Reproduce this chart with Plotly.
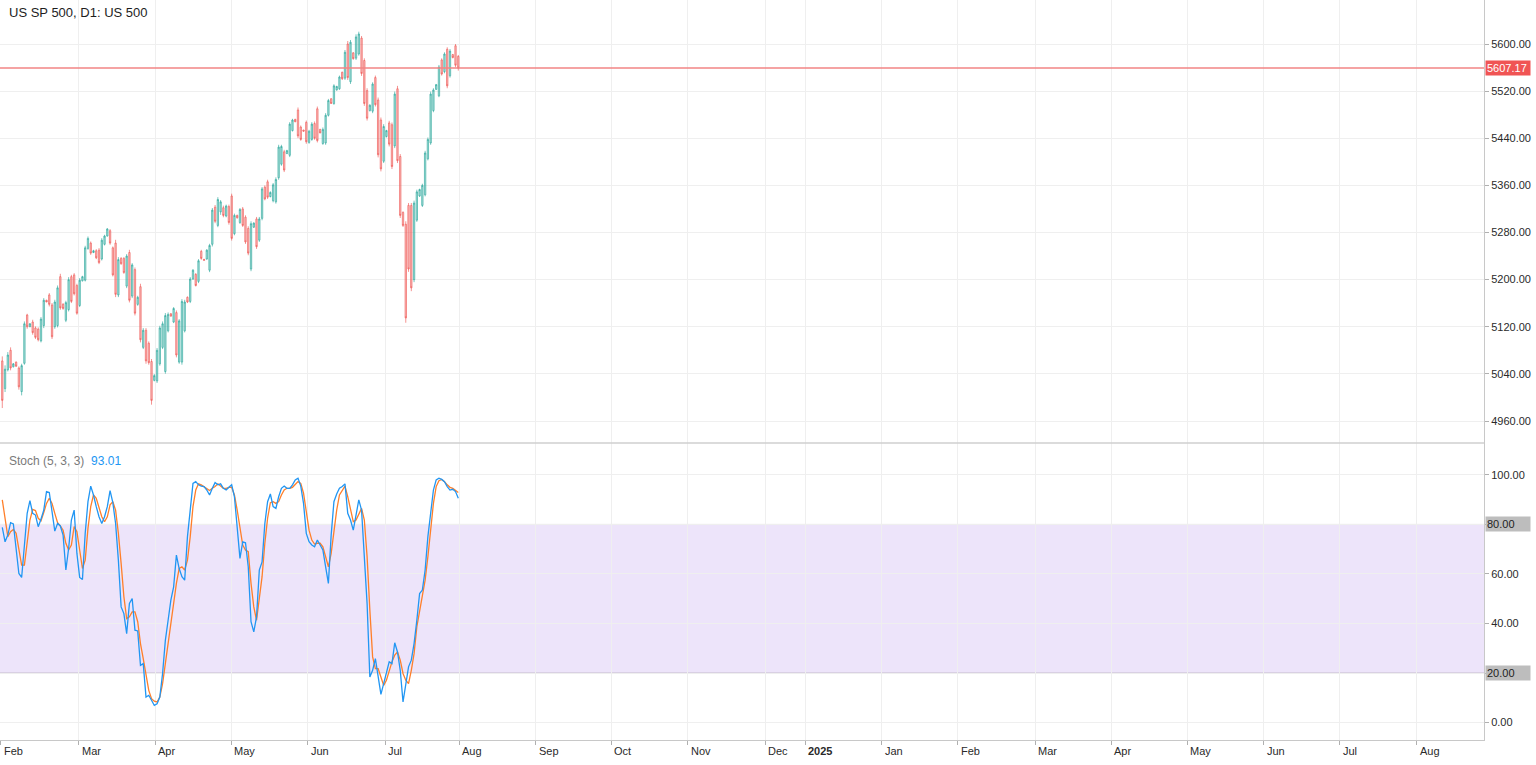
import plotly.graph_objects as go

# ---------------- data ----------------
bar_open = [5062, 5015, 5047, 5080, 5052, 5060, 5050, 5010, 5058, 5140,
            5120, 5128, 5118, 5116, 5096, 5122, 5165, 5174, 5157, 5120,
            5122, 5205, 5158, 5131, 5149, 5205, 5208, 5190, 5156, 5198,
            5199, 5253, 5262, 5246, 5249, 5250, 5235, 5260, 5274, 5283,
            5254, 5262, 5174, 5236, 5236, 5189, 5246, 5172, 5217, 5158,
            5188, 5085, 5114, 5092, 5061, 5029, 5028, 5057, 5085, 5044,
            5113, 5142, 5128, 5144, 5060, 5060, 5113, 5170, 5163, 5201,
            5209, 5197, 5248, 5234.5, 5235, 5216, 5260, 5323, 5292, 5315,
            5322, 5308, 5324, 5342, 5278, 5309, 5297, 5320, 5306, 5287,
            5218, 5289, 5303, 5267, 5304, 5357, 5366, 5341, 5334, 5332,
            5373, 5396, 5417, 5414, 5411, 5453, 5472, 5488, 5459, 5454,
            5467, 5433, 5438, 5465, 5490, 5455, 5431, 5432, 5479, 5507,
            5499, 5522, 5524, 5552, 5542, 5600, 5536, 5585, 5576, 5583,
            5610, 5572, 5521, 5487, 5486, 5543, 5505, 5471, 5401, 5443,
            5466, 5463, 5427, 5524, 5409, 5314, 5294, 5326, 5326, 5200,
            5301, 5342, 5326, 5344, 5405, 5432, 5487, 5523, 5512, 5573,
            5553, 5591, 5546, 5582, 5597, 5579]
bar_high = [5069.7, 5054.4, 5077.0, 5085.0, 5058.4, 5061.0, 5052.7, 5057.2, 5129.0, 5142.0,
            5126.2, 5131.9, 5120.6, 5118.9, 5136.4, 5168.6, 5165.8, 5177.1, 5160.2, 5165.8,
            5190.1, 5209.9, 5160.2, 5164.1, 5204.2, 5208.2, 5211.0, 5193.0, 5202.6, 5206.5,
            5257.4, 5273.2, 5264.7, 5250.6, 5251.7, 5253.4, 5270.4, 5276.1, 5287.4, 5285.7,
            5256.3, 5267.6, 5238.2, 5238.2, 5238.2, 5243.3, 5250.6, 5228.0, 5220.6, 5172.6,
            5193.0, 5117.7, 5117.7, 5095.1, 5065.2, 5039.7, 5083.8, 5121.7, 5129.0, 5143.2,
            5144.3, 5143.2, 5153.4, 5147.7, 5133.0, 5166.9, 5165.8, 5171.5, 5204.2, 5217.8,
            5211.0, 5234.8, 5250.6, 5234.8, 5251.7, 5260.8, 5321.6, 5326.7, 5340.0, 5335.0,
            5325.6, 5327.3, 5327.3, 5345.9, 5312.0, 5310.3, 5321.6, 5323.3, 5309.2, 5290.6,
            5299.0, 5297.3, 5306.4, 5306.4, 5357.2, 5360.0, 5369.6, 5349.9, 5364.0, 5373.6,
            5428.9, 5428.9, 5420.4, 5420.4, 5467.3, 5473.0, 5473.0, 5492.2, 5461.7, 5454.3,
            5470.1, 5454.3, 5467.3, 5468.5, 5493.8, 5456.0, 5458.3, 5482.6, 5506.8, 5508.0,
            5531.7, 5528.9, 5546.4, 5553.1, 5589.8, 5605.1, 5606.8, 5585.9, 5616.4, 5620.9,
            5613.6, 5575.7, 5524.9, 5497.8, 5535.0, 5546.4, 5509.1, 5475.2, 5463.9, 5454.3,
            5469.6, 5466.7, 5519.3, 5528.9, 5413.1, 5316.0, 5299.0, 5330.1, 5330.1, 5334.1,
            5352.7, 5354.4, 5362.8, 5418.7, 5441.3, 5519.3, 5524.9, 5532.2, 5564.4, 5575.7,
            5585.9, 5594.4, 5591.5, 5583.1, 5600.0, 5581.4]
bar_low = [4982.0, 5009.2, 5044.2, 5046.0, 5051.0, 5052.0, 5013.2, 5003.5, 5055.6, 5116.6,
           5119.4, 5106.4, 5099.1, 5095.1, 5093.4, 5117.7, 5161.8, 5154.5, 5099.1, 5116.6,
           5118.9, 5148.8, 5148.8, 5127.9, 5146.0, 5160.2, 5173.2, 5140.4, 5153.4, 5196.9,
           5196.9, 5250.6, 5242.0, 5245.0, 5234.8, 5226.3, 5232.5, 5258.0, 5273.2, 5259.1,
           5205.4, 5170.3, 5170.3, 5225.2, 5209.9, 5185.6, 5161.3, 5168.6, 5139.2, 5155.6,
           5093.4, 5082.1, 5057.2, 5055.6, 4987.7, 5027.3, 5024.5, 5053.9, 5082.1, 5040.3,
           5110.4, 5137.5, 5126.2, 5068.0, 5057.2, 5055.6, 5110.4, 5160.2, 5160.2, 5199.7,
           5188.4, 5194.1, 5233.7, 5232.5, 5233.7, 5212.7, 5256.3, 5295.8, 5289.0, 5310.0,
           5305.8, 5305.8, 5293.4, 5266.3, 5275.3, 5303.6, 5294.5, 5289.4, 5260.6, 5241.4,
           5214.3, 5287.8, 5252.2, 5264.0, 5300.7, 5334.6, 5336.9, 5339.7, 5331.2, 5329.0,
           5369.6, 5393.3, 5382.6, 5413.1, 5408.0, 5451.5, 5467.3, 5440.2, 5435.7, 5451.5,
           5430.6, 5430.6, 5435.7, 5437.4, 5432.9, 5448.7, 5428.9, 5428.9, 5476.9, 5498.4,
           5496.7, 5520.9, 5522.1, 5539.0, 5539.0, 5539.0, 5532.2, 5573.5, 5572.9, 5580.2,
           5545.8, 5495.0, 5470.1, 5485.4, 5482.6, 5493.9, 5407.5, 5383.7, 5397.9, 5441.3,
           5426.1, 5387.7, 5423.3, 5397.9, 5304.7, 5289.4, 5126.8, 5213.2, 5180.4, 5195.7,
           5298.0, 5340.3, 5323.3, 5341.4, 5402.4, 5428.9, 5484.2, 5522.1, 5509.7, 5546.4,
           5550.3, 5524.9, 5543.0, 5575.7, 5560.5, 5554.8]
bar_close = [4995, 5048, 5072, 5050, 5057, 5053, 5018, 5054, 5125, 5120,
             5125, 5110, 5102, 5098, 5133, 5165, 5162, 5158, 5103, 5162,
             5186, 5152, 5151, 5161, 5200, 5163, 5176, 5143, 5199, 5205,
             5254, 5270, 5245, 5249, 5237, 5229, 5267, 5274, 5286, 5262,
             5208, 5175, 5234, 5227, 5212, 5240, 5165, 5225, 5143, 5170,
             5098, 5114, 5062, 5059, 4995, 5037, 5080, 5118, 5125, 5139,
             5141, 5138, 5151, 5072, 5130, 5163, 5162, 5162, 5201, 5216,
             5190, 5232, 5236, 5233, 5250, 5258, 5318, 5299, 5336, 5332,
             5309, 5325, 5297, 5270, 5309, 5305, 5319, 5292, 5264, 5245,
             5295, 5296, 5256, 5303, 5354, 5337, 5340, 5348, 5361, 5370,
             5425, 5426, 5386, 5419, 5464, 5471, 5468, 5444, 5438, 5452,
             5434, 5452, 5464, 5440, 5436, 5449, 5455, 5479, 5504, 5499,
             5529, 5528, 5544, 5541, 5586, 5543, 5603, 5575, 5612, 5617,
             5550, 5499, 5474, 5496, 5532, 5497, 5412, 5388, 5460, 5453,
             5430, 5392, 5515, 5402, 5309, 5292, 5135, 5218, 5186, 5330,
             5349, 5353, 5360, 5415, 5438, 5515, 5522, 5531, 5561, 5549,
             5583, 5529, 5588, 5577, 5564, 5559]

stoch_k = [78.8, 73, 75.7, 80.7, 80.2, 69.7, 60.2, 58.6, 71, 84.5,
           89.6, 84.5, 83.8, 79.1, 82.1, 85.8, 93.3, 92.9, 85.2, 77.3,
           80.4, 79.4, 75.7, 61.6, 70.3, 81.8, 85.8, 68.3, 58.6, 57.8,
           76.4, 89.2, 95.5, 91.9, 87.2, 83.1, 80.4, 83.1, 87.2, 93.7,
           88.8, 80.4, 65.6, 46.7, 44, 35.9, 48.1, 50.1, 37.3, 37,
           23.1, 23.8, 10.3, 11, 9, 6.9, 7.6, 10.3, 19.8, 33.2,
           41.3, 49.4, 54.8, 67.6, 62.2, 58.9, 57.5, 75.1, 85.8, 96.6,
           97.3, 96, 95.5, 95.3, 93.9, 91.9, 94.6, 96.9, 96,
           96.4, 94.6, 93.9, 95, 96, 91.2, 77.7, 66.3, 73, 72.6,
           62.9, 40.7, 36.6, 42.7, 61.6, 64.9, 80.4, 89.2, 92.3, 87.2,
           86.5, 91.2, 94.6, 95.5, 94.6, 94.6, 96, 98, 98.7, 95.5,
           88.5, 76.4, 73, 71.7, 71, 73.7, 71.7, 69.7, 62.9, 56.2,
           75.7, 89.2, 92.3, 94.6, 95.3, 96.4, 84.5, 81.8, 77.7,
           84.5, 89.9, 85.8, 68.3, 48.1, 18.4, 21.1, 25.8, 18.4, 11.4,
           15.7, 20.4, 24.5, 23.8, 32.2, 28.5, 21.1, 8.3, 15.7, 22.5,
           25.2, 31.9, 41.3, 52.1, 53.5, 61.6, 75.1, 85.8, 93.9, 98,
           98.7, 98.2, 97.3, 95.3, 93.9, 94.2, 93.3, 90.6]
stoch_d = [89.9, 81.8, 75.1, 77.1, 78, 76.4, 69.7, 63.6, 63.6, 73.7,
           81.8, 86.1, 85.6, 82.5, 81.5, 84.8, 88.5, 90.6, 88.5, 84.5,
           80.7, 79.4, 77.7, 72.4, 69.7, 71.7, 79.1, 77.1, 69.7, 62.2,
           65.6, 78.4, 87.2, 91.9, 90.6, 87.2, 83.1, 81.1, 83.1, 87.9,
           89.2, 85.8, 76.4, 64.3, 50.8, 42, 42.7, 44.7, 44.7, 40.7,
           31.9, 25.8, 18.4, 13, 9.6, 8.6, 8.3, 10.3, 15.7, 23.8,
           33.2, 41.3, 48.8, 56.2, 62.2, 62.9, 61.6, 65.6, 75.1, 87.2,
           93.9, 96.4, 96, 95.3, 94.6, 93.7, 94.6, 95.3, 96.4,
           95.5, 94.6, 94.6, 95, 95, 91.9, 85.8, 78.4, 71.7, 69.7,
           69, 56.2, 46.7, 41.3, 50.1, 58.9, 72.4, 82.5, 88.8, 89.2,
           88.5, 89.2, 91.9, 93.9, 94.6, 94.6, 95, 96, 97.3, 96.6,
           92.6, 85.2, 77.7, 73.7, 72.1, 72.4, 72.4, 71, 67, 62.9,
           68.3, 77.1, 85.8, 91.9, 93.7, 95.5, 91.2, 85.8, 81.1,
           81.8, 84.5, 86.5, 81.8, 67, 45.4, 26.5, 21.8, 21.8, 18.4,
           15, 17.1, 21.1, 24.5, 27.2, 28.5, 25.2, 19.8, 17.1, 15.7,
           21.1, 27.8, 38.6, 45.4, 50.8, 57.5, 67, 79.1, 88.5, 95.3,
           97.7, 98.2, 97.3, 96, 95, 94.6, 93.9, 92.9]

month_ticks = [-0.6, 27.6, 55.3, 82.8, 110.6, 138.5, 165.3, 193.1, 220.3, 248.1,
               276.0, 290.5, 318.3, 345.8, 373.7, 401.2, 428.7, 456.5, 484.0, 511.9]
month_labels = ["Feb", "Mar", "Apr", "May", "Jun", "Jul", "Aug", "Sep", "Oct", "Nov",
                "Dec", "<b>2025</b>", "Jan", "Feb", "Mar", "Apr", "May", "Jun", "Jul", "Aug"]
price_ticks = [4960, 5040, 5120, 5200, 5280, 5360, 5440, 5520, 5600]
stoch_ticks = [0, 20, 40, 60, 80, 100]
stoch_labels = ["0.00", "", "40.00", "60.00", "", "100.00"]
band_low, band_high = 20, 80
last_price_level = 5559.3
last_price_label = "5607.17"
stoch_value_label = "93.01"
chart_title = "US SP 500, D1: US 500"
stoch_title = "Stoch (5, 3, 3)"

# ---------------- figure ----------------
FONT = "Liberation Sans"
idx = list(range(len(bar_open)))
split = 0.40135

fig = go.Figure()
fig.add_trace(go.Candlestick(
    x=idx, open=bar_open, high=bar_high, low=bar_low, close=bar_close,
    xaxis="x", yaxis="y", whiskerwidth=0, showlegend=False, hoverinfo="skip",
    increasing=dict(line=dict(color="rgba(38,166,154,0.7)", width=0.9),
                    fillcolor="rgba(38,166,154,0.35)"),
    decreasing=dict(line=dict(color="rgba(239,83,80,0.7)", width=0.9),
                    fillcolor="rgba(239,83,80,0.35)"),
))
fig.add_trace(go.Scatter(x=idx[:len(stoch_d)], y=stoch_d, xaxis="x", yaxis="y2",
                         mode="lines", line=dict(color="#ff7f2a", width=1.3),
                         showlegend=False, hoverinfo="skip"))
fig.add_trace(go.Scatter(x=idx[:len(stoch_k)], y=stoch_k, xaxis="x", yaxis="y2",
                         mode="lines", line=dict(color="#2196f3", width=1.3),
                         showlegend=False, hoverinfo="skip"))

grid = "#efefef"
axis_line = "#c8c8c8"
tick_font = dict(family=FONT, size=11, color="#2a2a2a")

fig.update_layout(
    width=1536, height=765,
    margin=dict(l=0, r=52, t=0, b=25),
    paper_bgcolor="white", plot_bgcolor="white",
    font=dict(family=FONT, size=11, color="#2a2a2a"),
    xaxis=dict(anchor="y2", range=[-0.83, 536.15], tickvals=month_ticks,
               showticklabels=False, ticks="outside", ticklen=4, tickcolor="#b0b0b0",
               showgrid=True, gridcolor=grid, gridwidth=1, zeroline=False,
               showline=True, linecolor=axis_line, linewidth=1,
               rangeslider=dict(visible=False), fixedrange=True),
    yaxis=dict(domain=[split, 1], range=[4922.65, 5674.7], side="right",
               tickvals=price_ticks, tickformat=".2f", ticks="outside", ticklen=4,
               tickcolor="#b0b0b0", tickfont=tick_font, showgrid=True, gridcolor=grid,
               zeroline=False, showline=True, linecolor=axis_line, linewidth=1),
    yaxis2=dict(domain=[0, split], range=[-7.06, 112.9], side="right",
                tickvals=stoch_ticks, ticktext=stoch_labels, ticks="outside", ticklen=4,
                tickcolor="#b0b0b0", tickfont=tick_font, showgrid=True, gridcolor=grid,
                zeroline=False, showline=True, linecolor=axis_line, linewidth=1),
)

shapes = [
    dict(type="rect", xref="paper", x0=0, x1=1, yref="y2", y0=band_low, y1=band_high,
         fillcolor="rgba(135,75,222,0.15)", line=dict(width=0), layer="below"),
    dict(type="line", xref="paper", x0=0, x1=1, yref="y2", y0=band_high, y1=band_high,
         line=dict(color="#c4bccd", width=1), layer="below"),
    dict(type="line", xref="paper", x0=0, x1=1, yref="y2", y0=band_low, y1=band_low,
         line=dict(color="#c4bccd", width=1), layer="below"),
    dict(type="line", xref="paper", x0=0, x1=1, yref="paper", y0=split, y1=split,
         line=dict(color="#cfcfcf", width=1.5)),
    dict(type="line", xref="paper", x0=0, x1=1, yref="y", y0=last_price_level,
         y1=last_price_level, line=dict(color="#f28585", width=1.5)),
]
fig.update_layout(shapes=shapes)

annotations = [
    dict(text=chart_title, xref="paper", yref="paper", x=0, y=1, xanchor="left",
         yanchor="top", xshift=7, yshift=-3, showarrow=False,
         font=dict(family=FONT, size=13, color="#1e1e1e")),
    dict(text=f'<span style="color:#7a7a7a">{stoch_title}</span>  '
              f'<span style="color:#2196f3">{stoch_value_label}</span>',
         xref="paper", yref="paper", x=0, y=split, xanchor="left", yanchor="top",
         xshift=7, yshift=-9, showarrow=False, font=dict(family=FONT, size=12)),
    dict(text=last_price_label, xref="paper", yref="y", x=1, y=last_price_level,
         xanchor="left", yanchor="middle", xshift=1, showarrow=False, width=42, align="left",
         bgcolor="#f05454", borderpad=1, font=dict(family=FONT, size=11, color="white")),
    dict(text="80.00", xref="paper", yref="y2", x=1, y=band_high,
         xanchor="left", yanchor="middle", xshift=1, showarrow=False, width=42, align="left",
         bgcolor="#bdbdbd", borderpad=1, font=dict(family=FONT, size=11, color="#1e1e1e")),
    dict(text="20.00", xref="paper", yref="y2", x=1, y=band_low,
         xanchor="left", yanchor="middle", xshift=1, showarrow=False, width=42, align="left",
         bgcolor="#bdbdbd", borderpad=1, font=dict(family=FONT, size=11, color="#1e1e1e")),
]
for tv, lab in zip(month_ticks, month_labels):
    annotations.append(dict(text=lab, xref="x", yref="paper", x=tv, y=0,
                            xanchor="left", yanchor="top", xshift=1, yshift=-3,
                            showarrow=False,
                            font=dict(family=FONT, size=11, color="#2a2a2a")))
fig.update_layout(annotations=annotations)

# remove the browser's default 8px page margin so the figure fills the window
fig.write_html("out.html", config={"displayModeBar": False},
               post_script="document.body.style.margin='0';document.body.style.overflow='hidden';")
